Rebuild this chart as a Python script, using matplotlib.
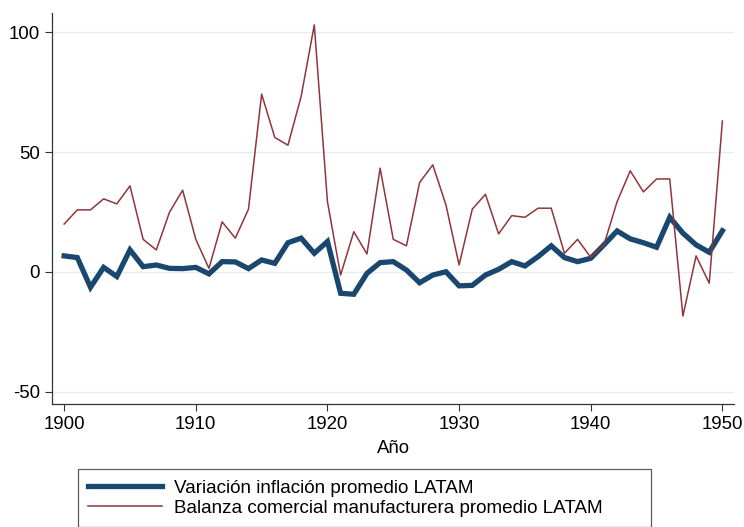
import matplotlib
matplotlib.use("Agg")
import matplotlib.pyplot as plt

plt.rcParams['font.family'] = ['Liberation Sans', 'DejaVu Sans']
plt.rcParams['axes.unicode_minus'] = False

years = list(range(1900, 1951))
inflacion = [6.7, 6.0, -6.4, 1.9, -1.9, 9.2, 2.2, 2.9, 1.5, 1.4,
             1.9, -0.8, 4.3, 4.2, 1.4, 5.0, 3.6, 12.2, 14.1, 7.8,
             12.7, -8.9, -9.3, -0.6, 3.9, 4.3, 0.8, -4.5, -1.3, 0.1,
             -5.8, -5.6, -1.3, 1.1, 4.3, 2.5, 6.4, 10.9, 6.0, 4.3,
             5.7, 11.3, 17.1, 13.8, 12.2, 10.3, 22.8, 16.2, 11.3, 8.2,
             17.2]
balanza = [20.0, 25.9, 25.9, 30.5, 28.4, 35.9, 13.6, 9.2, 24.9, 34.1,
           13.6, 1.5, 20.9, 14.1, 26.2, 74.2, 56.1, 52.9, 73.2, 103.1,
           29.3, -1.3, 16.8, 7.5, 43.3, 13.6, 10.9, 37.3, 44.7, 28.0,
           2.9, 26.2, 32.4, 15.9, 23.5, 22.8, 26.6, 26.6, 7.8, 13.6,
           6.1, 11.3, 29.3, 42.2, 33.4, 38.8, 38.8, -18.4, 6.7, -4.7,
           63.0]
xticks = [1900, 1910, 1920, 1930, 1940, 1950]
yticks = [-50, 0, 50, 100]
label_inf = "Variación inflación promedio LATAM"
label_bal = "Balanza comercial manufacturera promedio LATAM"
xlabel = "Año"

fig = plt.figure(figsize=(7.44, 5.27), dpi=100)
ax = fig.add_axes([0.0703, 0.2334, 0.9166, 0.7426])

ax.plot(years, inflacion, color="#1a476f", lw=3.8, label=label_inf,
        solid_joinstyle="miter", zorder=3)
ax.plot(years, balanza, color="#90353b", lw=1.1, label=label_bal, zorder=3)

ax.set_xlim(1899.1, 1950.9)
ax.set_ylim(-55.1, 108.2)
ax.set_xticks(xticks)
ax.set_yticks(yticks)
ax.tick_params(labelsize=13.4, length=5, width=0.8, color="#333333", pad=4)
ax.yaxis.grid(True, color="#e6eef0", lw=1.0)
ax.set_axisbelow(True)
for s in ["top", "right"]:
    ax.spines[s].set_visible(False)
for s in ["left", "bottom"]:
    ax.spines[s].set_color("#333333")
    ax.spines[s].set_linewidth(0.9)
ax.set_xlabel(xlabel, fontsize=13.4, labelpad=5)

leg = fig.legend(loc="upper left", bbox_to_anchor=(0.1044, 0.110, 0.7706, 0.0),
                 mode="expand", fontsize=13.6, frameon=True, fancybox=False,
                 edgecolor="#333333", handlelength=3.9, handletextpad=0.65,
                 borderpad=0.55, labelspacing=0.15, borderaxespad=0)
leg.get_frame().set_linewidth(0.9)

fig.savefig("out.png", dpi=100, facecolor="white")
